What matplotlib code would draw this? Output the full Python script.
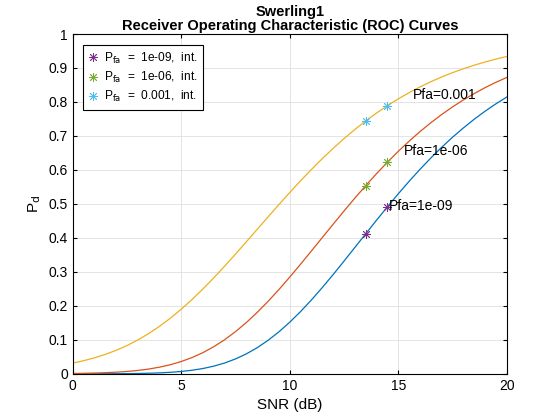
import matplotlib.pyplot as plt

plt.rcParams['font.family'] = ['Liberation Sans', 'DejaVu Sans']

# SNR grid (dB), 0.5 dB steps, and Pd values
snr_db = [i / 2 for i in range(41)]
pd_1e9 = [0.0000, 0.0001, 0.0001, 0.0002, 0.0003, 0.0006, 0.0010, 0.0017, 0.0027, 0.0044,
          0.0069, 0.0105, 0.0156, 0.0226, 0.0318, 0.0438, 0.0587, 0.0769, 0.0986, 0.1236,
          0.1520, 0.1834, 0.2176, 0.2541, 0.2923, 0.3318, 0.3720, 0.4122, 0.4523, 0.4916,
          0.5298, 0.5666, 0.6018, 0.6352, 0.6667, 0.6962, 0.7237, 0.7493, 0.7729, 0.7946,
          0.8145]
pd_1e6 = [0.0010, 0.0015, 0.0022, 0.0033, 0.0048, 0.0069, 0.0099, 0.0140, 0.0196, 0.0268,
          0.0362, 0.0479, 0.0624, 0.0799, 0.1004, 0.1242, 0.1510, 0.1809, 0.2133, 0.2481,
          0.2848, 0.3229, 0.3618, 0.4012, 0.4404, 0.4792, 0.5172, 0.5539, 0.5892, 0.6229,
          0.6548, 0.6847, 0.7128, 0.7389, 0.7632, 0.7855, 0.8061, 0.8249, 0.8422, 0.8579,
          0.8722]
pd_1e3 = [0.0316, 0.0386, 0.0470, 0.0571, 0.0691, 0.0832, 0.0996, 0.1185, 0.1399, 0.1638,
          0.1902, 0.2190, 0.2499, 0.2826, 0.3170, 0.3524, 0.3887, 0.4253, 0.4619, 0.4981,
          0.5337, 0.5682, 0.6015, 0.6334, 0.6637, 0.6922, 0.7192, 0.7443, 0.7676, 0.7892,
          0.8092, 0.8275, 0.8443, 0.8596, 0.8736, 0.8863, 0.8978, 0.9083, 0.9177, 0.9262,
          0.9339]

# marker points
mark_snr = [13.5, 14.5]
mark_1e9 = [0.412, 0.492]
mark_1e6 = [0.554, 0.623]
mark_1e3 = [0.744, 0.789]

legend_labels = ['P$_{\\rm fa}$  =  1e-09,  int.',
                 'P$_{\\rm fa}$  =  1e-06,  int.',
                 'P$_{\\rm fa}$  =  0.001,  int.']
curve_labels = ['Pfa=1e-09', 'Pfa=1e-06', 'Pfa=0.001']

line_cols = ['#0072BD', '#D95319', '#EDB120']
mark_cols = ['#7E2F8E', '#77AC30', '#4DBEEE']

fig = plt.figure(figsize=(5.6, 4.2), dpi=100)
ax = fig.add_axes([0.130, 0.110, 0.775, 0.809])

asterisk = (8, 2, 0)
curves = [pd_1e9, pd_1e6, pd_1e3]
marks = [mark_1e9, mark_1e6, mark_1e3]
handles = []
for pd, mk, lc, mc in zip(curves, marks, line_cols, mark_cols):
    ax.plot(snr_db, pd, color=lc, lw=0.9)
    h, = ax.plot(mark_snr, mk, marker=asterisk, color=mc, ms=6.5, mew=0.6, ls='none')
    handles.append(h)

# curve labels
ax.text(14.55, 0.493, curve_labels[0], ha='left', va='center', fontsize=10)
ax.text(15.25, 0.655, curve_labels[1], ha='left', va='center', fontsize=10)
ax.text(15.65, 0.82, curve_labels[2], ha='left', va='center', fontsize=10)

ax.set_xlim(0, 20)
ax.set_ylim(0, 1)
ax.set_xticks([0, 5, 10, 15, 20])
ax.set_yticks([i / 10 for i in range(11)])
ax.set_yticklabels(['0', '0.1', '0.2', '0.3', '0.4', '0.5', '0.6', '0.7', '0.8', '0.9', '1'])
ax.tick_params(direction='in', length=3, labelsize=10, top=True, right=True,
               labeltop=False, labelright=False)
ax.grid(True, color='#dfdfdf', lw=0.6)
ax.set_axisbelow(True)
for s in ax.spines.values():
    s.set_linewidth(0.8)

ax.set_xlabel('SNR (dB)', fontsize=11)
ax.set_ylabel('P$_{\\rm d}$', fontsize=11)
ax.set_title('Swerling1\nReceiver Operating Characteristic (ROC) Curves',
             fontsize=10.5, fontweight='bold', pad=3, linespacing=0.95)

leg = ax.legend(handles, legend_labels, loc='upper left', fontsize=8.6,
                fancybox=False, edgecolor='k', framealpha=1,
                handlelength=0.8, handletextpad=0.5, borderpad=0.45,
                labelspacing=0.35, bbox_to_anchor=(0.01, 0.985))
leg.get_frame().set_linewidth(0.8)

fig.savefig('out.png', dpi=100)
